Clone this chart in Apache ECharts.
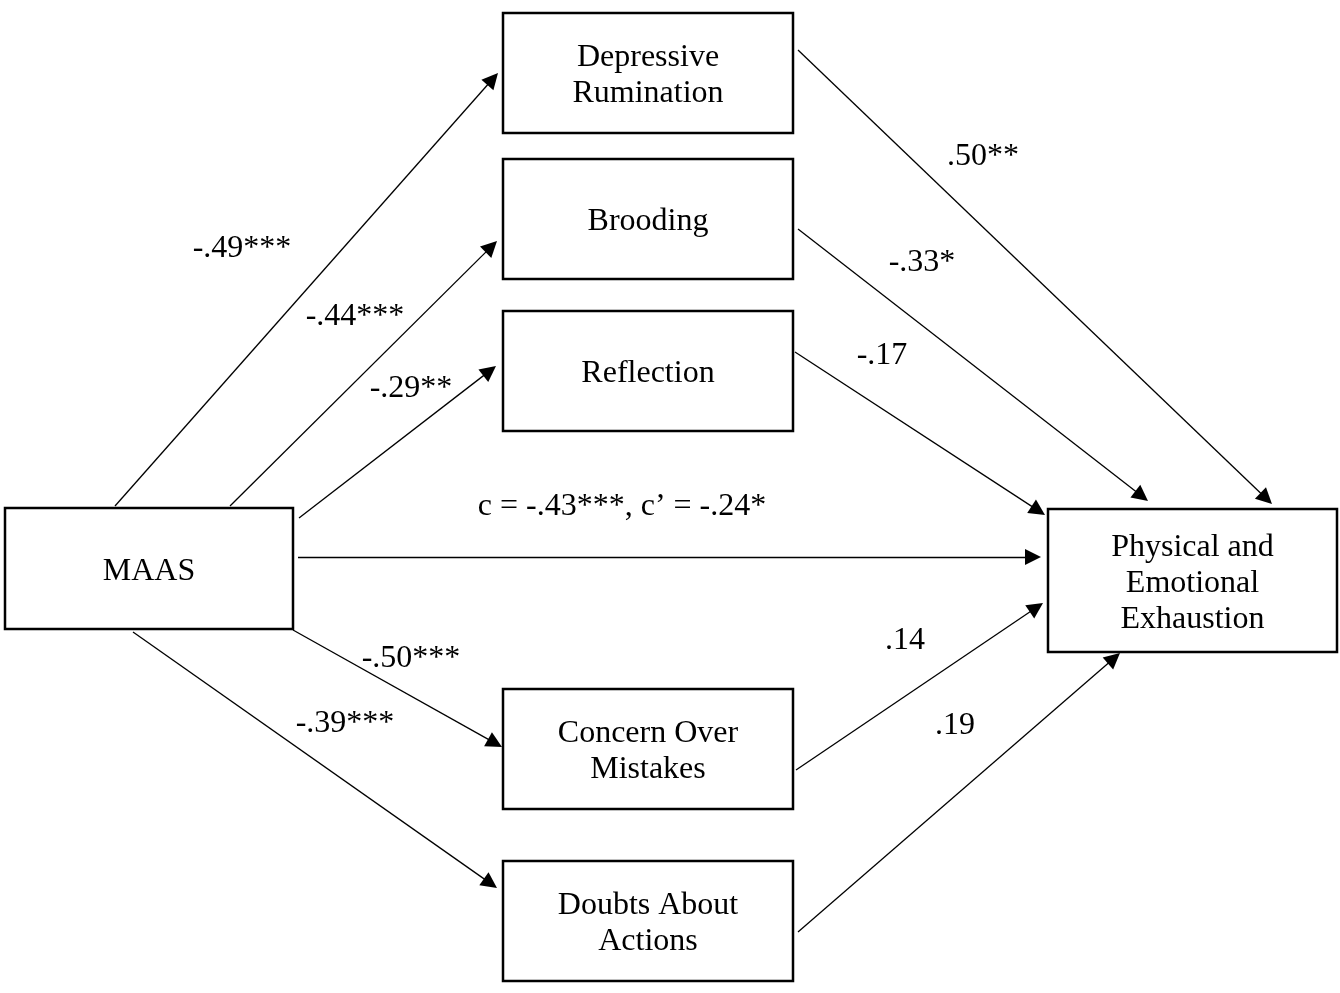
<!DOCTYPE html>
<html lang="en">
<head>
  <meta charset="UTF-8">
  <title>MAAS mediation model</title>
  <script src="https://cdn.jsdelivr.net/npm/echarts@6/dist/echarts.min.js"></script>
  <style>
    html, body { margin: 0; padding: 0; background: #fff; }
    #chart { width: 1340px; height: 993px; }
  </style>
</head>
<body>
  <div id="chart"></div>
  <script>
    // variables (boxes)
    const nodeNames = [
      'MAAS',
      'Depressive\nRumination',
      'Brooding',
      'Reflection',
      'Concern Over\nMistakes',
      'Doubts About\nActions',
      'Physical and\nEmotional\nExhaustion'
    ];
    // path coefficients
    const pathLabels = [
      '-.49***', '-.44***', '-.29**', '-.50***', '-.39***',
      '.50**', '-.33*', '-.17', '.14', '.19',
      'c = -.43***, c\u2019 = -.24*'
    ];

    // layout (pixel space of the figure)
    const nodeBoxes = [
      [5, 508, 293, 629],
      [503, 13, 793, 133],
      [503, 159, 793, 279],
      [503, 311, 793, 431],
      [503, 689, 793, 809],
      [503, 861, 793, 981],
      [1048, 509, 1337, 652]
    ];
    const arrowFrom = [
      [115, 506], [230, 506], [299, 518], [293, 630], [133, 632],
      [798, 50], [798, 229], [795, 352], [796, 770], [798, 932],
      [298, 557]
    ];
    const arrowTo = [
      [498, 73], [497, 241], [496, 366], [502, 747], [497, 888],
      [1272, 504], [1148, 501], [1045, 515], [1043, 603], [1120, 653],
      [1041, 557]
    ];
    const labelPos = [
      [242, 246], [355, 314], [411, 386], [411, 656], [345, 721],
      [983, 154], [922, 260], [882, 353], [905, 638], [955, 723],
      [622, 504]
    ];

    const FONT = '32px "Liberation Serif", "Times New Roman", serif';
    const HEAD_LEN = 16;

    // the end symbol is centred on the line end, so stop the line half a head short of the tip
    function pullBack(s, t) {
      const dx = t[0] - s[0], dy = t[1] - s[1];
      const len = Math.sqrt(dx * dx + dy * dy);
      return [t[0] - dx / len * HEAD_LEN / 2, t[1] - dy / len * HEAD_LEN / 2];
    }

    const chart = echarts.init(document.getElementById('chart'));
    chart.setOption({
      backgroundColor: '#fff',
      animation: false,
      grid: { left: 0, right: 0, top: 0, bottom: 0 },
      xAxis: { type: 'value', min: 0, max: 1340, show: false },
      yAxis: { type: 'value', min: 0, max: 993, inverse: true, show: false },
      series: [
        {
          // boxes
          type: 'custom',
          coordinateSystem: 'cartesian2d',
          z: 2,
          data: nodeBoxes.map((b, i) => [b[0], b[1], b[2], b[3], i]),
          renderItem: function (params, api) {
            const p0 = api.coord([api.value(0), api.value(1)]);
            const p1 = api.coord([api.value(2), api.value(3)]);
            return {
              type: 'rect',
              shape: { x: p0[0], y: p0[1], width: p1[0] - p0[0], height: p1[1] - p0[1] },
              style: { fill: '#fff', stroke: '#000', lineWidth: 2.5 },
              textContent: {
                style: {
                  text: nodeNames[api.value(4)],
                  font: FONT,
                  fill: '#000',
                  align: 'center',
                  verticalAlign: 'middle',
                  lineHeight: 36
                }
              },
              textConfig: { position: 'inside', offset: [0, 3] }
            };
          }
        },
        {
          // arrows
          type: 'lines',
          coordinateSystem: 'cartesian2d',
          z: 3,
          symbol: ['none', 'triangle'],
          symbolSize: [13, HEAD_LEN],
          lineStyle: { color: '#000', width: 1.3, opacity: 1 },
          data: arrowFrom.map((s, i) => ({ coords: [s, pullBack(s, arrowTo[i])] }))
        },
        {
          // coefficient labels
          type: 'custom',
          coordinateSystem: 'cartesian2d',
          z: 4,
          data: labelPos.map((p, i) => [p[0], p[1], i]),
          renderItem: function (params, api) {
            const p = api.coord([api.value(0), api.value(1) + 3]);
            return {
              type: 'text',
              style: {
                text: pathLabels[api.value(2)],
                x: p[0],
                y: p[1],
                font: FONT,
                fill: '#000',
                align: 'center',
                verticalAlign: 'middle'
              }
            };
          }
        }
      ]
    });
  </script>
</body>
</html>
